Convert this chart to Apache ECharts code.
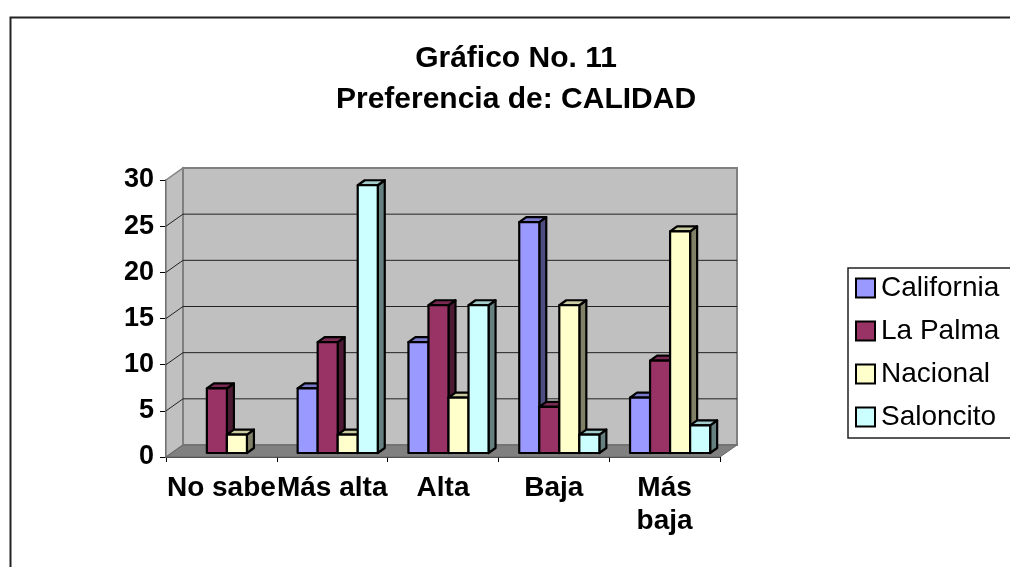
<!DOCTYPE html>
<html>
<head>
<meta charset="utf-8">
<script src="https://cdn.jsdelivr.net/npm/echarts@6/dist/echarts.min.js"></script>
<style>
html,body{margin:0;padding:0;background:#fff;}
#chart{width:1010px;height:567px;}
</style>
</head>
<body>
<div id="chart"></div>
<script>
// ---- data ----
var categories = ['No sabe', 'Más alta', 'Alta', 'Baja', 'Más baja'];
var seriesNames = ['California', 'La Palma', 'Nacional', 'Saloncito'];
var california = [null, 7, 12, 25, 6];
var laPalma    = [7, 12, 16, 5, 10];
var nacional   = [2, 2, 6, 16, 24];
var saloncito  = [null, 29, 16, 2, 3];
var yTicks = [0, 5, 10, 15, 20, 25, 30];
var titleLines = ['Gráfico No. 11', 'Preferencia de: CALIDAD'];

// ---- styles ----
var FONT = "'Liberation Sans', Arial, sans-serif";
var frontColors = ['#9999ff', '#993366', '#ffffcc', '#ccffff'];
var sideColors  = ['#4d4d80', '#4d1a33', '#808066', '#668080'];
var topColors   = ['#7a7acc', '#7a2952', '#cccca3', '#a3cccc'];
var WALL_DX = 17, WALL_DY = -12;   // depth of the 3D box
var BAR_DX = 5.5, BAR_DY = -4;     // bar front-face offset
var BAR_SX = 7, BAR_SY = -5;       // bar depth
var GROUP_FRAC = 0.723;

var allValues = [california, laPalma, nacional, saloncito];

function frameRender(params, api) {
  var cs = params.coordSys;
  var L = cs.x, R = cs.x + cs.width;
  var yTop = api.coord([0, yTicks[yTicks.length - 1]])[1];
  var yBot = api.coord([0, yTicks[0]])[1];
  var dx = WALL_DX, dy = WALL_DY;
  var children = [];
  children.push({type: 'polygon', shape: {points: [[L, yTop], [L + dx, yTop + dy], [L + dx, yBot + dy], [L, yBot]]},
    style: {fill: '#c0c0c0', stroke: '#808080', lineWidth: 1.5}});
  children.push({type: 'rect', shape: {x: L + dx, y: yTop + dy, width: R - L, height: yBot - yTop},
    style: {fill: '#c0c0c0', stroke: '#808080', lineWidth: 2}});
  for (var i = 1; i < yTicks.length - 1; i++) {
    var y = api.coord([0, yTicks[i]])[1];
    children.push({type: 'polyline', shape: {points: [[L, y], [L + dx, y + dy], [R + dx, y + dy]]},
      style: {stroke: '#222', lineWidth: 1, fill: null}});
  }
  children.push({type: 'polygon', shape: {points: [[L, yBot], [R, yBot], [R + dx, yBot + dy], [L + dx, yBot + dy]]},
    style: {fill: '#808080', stroke: '#666', lineWidth: 1}});
  return {type: 'group', children: children, silent: true};
}

function makeBarRender(si) {
  return function (params, api) {
    var ci = api.value(0), v = api.value(1);
    if (v == null || isNaN(v)) return null;
    var base = api.coord([ci, 0]);
    var topPt = api.coord([ci, v]);
    var bw = api.size([1, 0])[0];
    var gw = bw * GROUP_FRAC, w = gw / 4;
    var x = base[0] - gw / 2 + si * w + BAR_DX;
    var yb = base[1] + BAR_DY;
    var yt = topPt[1] + BAR_DY;
    var st = {stroke: '#000', lineWidth: 2.2, lineJoin: 'round'};
    return {type: 'group', children: [
      {type: 'polygon', shape: {points: [[x + w, yt], [x + w + BAR_SX, yt + BAR_SY], [x + w + BAR_SX, yb + BAR_SY], [x + w, yb]]},
        style: Object.assign({fill: sideColors[si]}, st)},
      {type: 'polygon', shape: {points: [[x, yt], [x + BAR_SX, yt + BAR_SY], [x + w + BAR_SX, yt + BAR_SY], [x + w, yt]]},
        style: Object.assign({fill: topColors[si]}, st)},
      {type: 'rect', shape: {x: x, y: yt, width: w, height: yb - yt},
        style: Object.assign({fill: frontColors[si]}, st)}
    ]};
  };
}

var series = [{
  type: 'custom', name: '_frame', renderItem: frameRender, data: [[0, 0]], silent: true, z: 1,
  tooltip: {show: false}
}];
seriesNames.forEach(function (n, si) {
  series.push({
    type: 'custom', name: n, z: 2 + si,
    itemStyle: {color: frontColors[si]},
    renderItem: makeBarRender(si),
    data: allValues[si].map(function (v, ci) { return [ci, v]; })
  });
});

var chart = echarts.init(document.getElementById('chart'));
chart.setOption({
  animation: false,
  backgroundColor: '#fff',
  textStyle: {fontFamily: FONT},
  title: {
    text: titleLines.join('\n'),
    left: 516, top: 38, textAlign: 'center', padding: 0,
    textStyle: {fontFamily: FONT, fontSize: 30, fontWeight: 'bold', color: '#000', lineHeight: 41}
  },
  graphic: [{
    type: 'rect', left: 8, top: 15, shape: {width: 1100, height: 700},
    style: {fill: null, stroke: '#222', lineWidth: 2}, silent: true, z: -1
  }],
  legend: {
    orient: 'vertical', left: 848, top: 268,
    padding: [5, 30, 6, 7], itemGap: 13,
    itemWidth: 19, itemHeight: 19,
    borderColor: '#222', borderWidth: 1.5,
    icon: 'rect',
    data: seriesNames.map(function (n) { return {name: n, itemStyle: {borderColor: '#000', borderWidth: 2}}; }),
    textStyle: {fontFamily: FONT, fontSize: 28, color: '#000', lineHeight: 30, padding: [0, 0, 0, 1]}
  },
  grid: {left: 166, top: 180, width: 554, height: 277, containLabel: false},
  xAxis: {
    type: 'category', data: categories, boundaryGap: true,
    axisLine: {show: true, lineStyle: {color: '#000', width: 1.5}},
    axisTick: {show: true, length: 5, alignWithLabel: false, lineStyle: {color: '#000'}},
    axisLabel: {
      interval: 0, margin: 15, color: '#000', fontFamily: FONT, fontSize: 28, fontWeight: 'bold', lineHeight: 33,
      formatter: function (v) { return v === 'Más baja' ? v.replace(' ', '\n') : v; }
    },
    splitLine: {show: false}
  },
  yAxis: {
    type: 'value', min: yTicks[0], max: yTicks[yTicks.length - 1], interval: yTicks[1] - yTicks[0],
    axisLine: {show: true, lineStyle: {color: '#000', width: 1.5}},
    axisTick: {show: true, length: 6, lineStyle: {color: '#000'}},
    axisLabel: {margin: 12, color: '#000', fontFamily: FONT, fontSize: 27, fontWeight: 'bold'},
    splitLine: {show: false}
  },
  series: series
});
</script>
</body>
</html>
